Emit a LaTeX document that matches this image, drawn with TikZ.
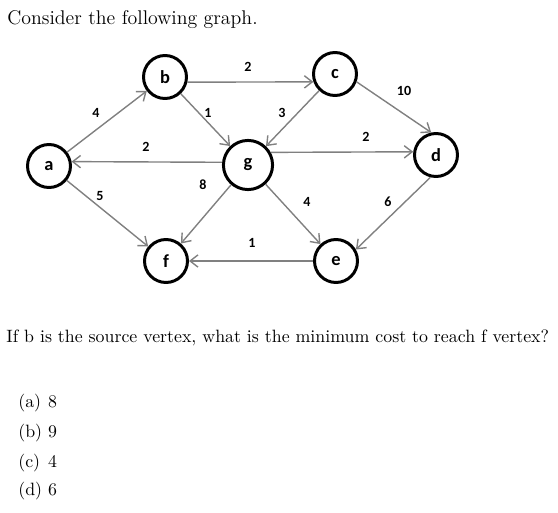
\documentclass[tikz,border=0pt]{standalone}
\usepackage{fontspec}
\usetikzlibrary{arrows.meta}
\newfontfamily\graphFont{Carlito}
\definecolor{edgeGray}{RGB}{128,128,128}
\newcommand{\vertex}[3]{%%
  \node[vertexStyle] (#1) at (#2) {#3};
}
\newcommand{\weight}[3]{%%
  \node[weightStyle] (#1) at (#2) {#3};
}
\newcommand{\answer}[4]{%%
  \node[textStyle] (#1) at (#2) {\makebox[17pt][l]{(#3)}#4};
}

\begin{document}
\begin{tikzpicture}[%%
  x=0.57pt,y=-0.57pt,%%
  vertexStyle/.style={draw,circle,line width=1.7pt,minimum size=24.5pt,inner sep=0pt,%%
    font=\graphFont\bfseries\fontsize{10.5}{12}\selectfont},%%
  bigVertexStyle/.style={vertexStyle,minimum size=28pt},%%
  edgeStyle/.style={-{Straight Barb[length=4.5pt,width=7pt]},edgeGray,line width=0.8pt},%%
  weightStyle/.style={inner sep=0pt,font=\graphFont\bfseries\fontsize{8}{9}\selectfont},%%
  textStyle/.style={anchor=base west,inner sep=0pt,font=\fontsize{10.17}{12}\selectfont}%%
]
\useasboundingbox (0,0) rectangle (558,513);
%%
%% The question.
\node[textStyle,font=\fontsize{11.3}{13}\selectfont] (head) at (7,25) {Consider the following graph.};
\node[textStyle] (question) at (6,343) {If b is the source vertex, what is the minimum cost to reach f vertex?};
%%
%% The vertices.
\vertex{a}{49,166}{a}
\vertex{b}{165,77}{b}
\vertex{c}{335,74}{c}
\vertex{d}{436,155}{d}
\node[bigVertexStyle] (g) at (248,165) {g};
\vertex{f}{166,261}{f}
\vertex{e}{336,261}{e}
%%
%% The weighted edges.
\draw[edgeStyle] (a) -- (b);
\draw[edgeStyle] (b.-13) -- (c.200);
\draw[edgeStyle] (b) -- (g);
\draw[edgeStyle] (c) -- (g);
\draw[edgeStyle] (c.-20) -- (d.102);
\draw[edgeStyle] (g.29) -- (d.172);
\draw[edgeStyle] (g.174) -- (a.11);
\draw[edgeStyle] (a) -- (f);
\draw[edgeStyle] (g) -- (f);
\draw[edgeStyle] (g) -- (e);
\draw[edgeStyle] (d.-104) -- (e.30);
\draw[edgeStyle] (e) -- (f);
%%
\weight{wab}{96,113}{4}
\weight{wbc}{248,67}{2}
\weight{wbg}{208,113}{1}
\weight{wcg}{282,113}{3}
\weight{wcd}{404,91}{10}
\weight{wgd}{366,137}{2}
\weight{wga}{146,147}{2}
\weight{waf}{100,196}{5}
\weight{wgf}{203,185}{8}
\weight{wge}{307,202}{4}
\weight{wde}{388,202}{6}
\weight{wef}{252,243}{1}
%%
%% The choices.
\answer{opta}{18,408}{a}{8}
\answer{optb}{18,438}{b}{9}
\answer{optc}{18,468}{c}{4}
\answer{optd}{18,496}{d}{6}
\end{tikzpicture}
\end{document}
